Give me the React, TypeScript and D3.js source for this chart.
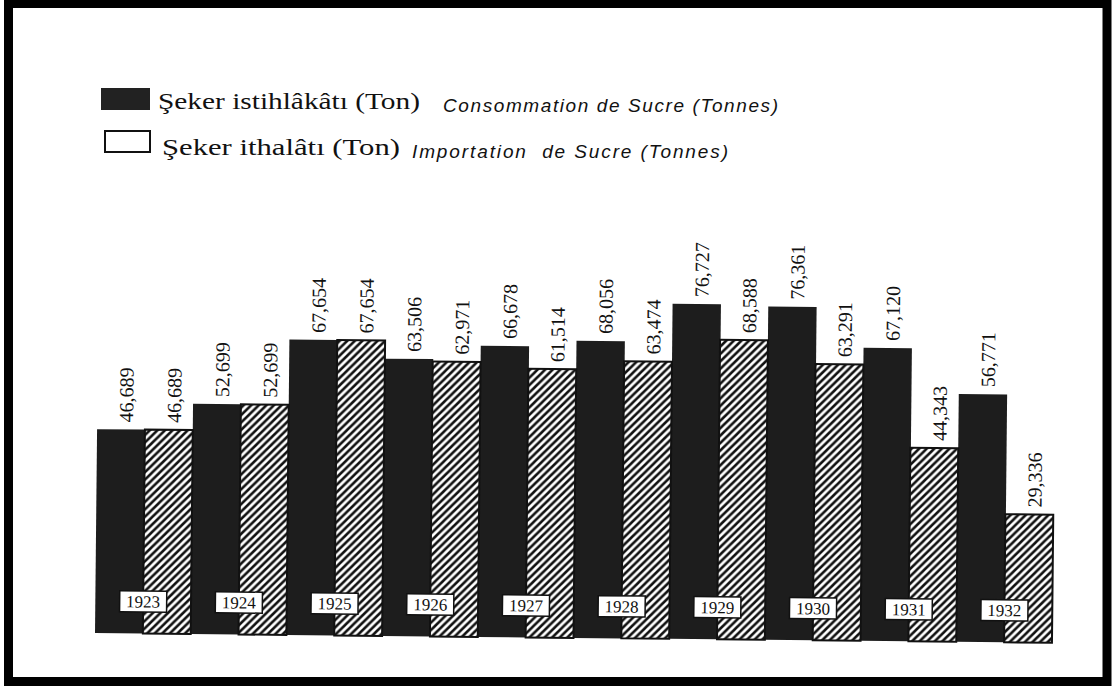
import React, { Component } from "react";
import * as d3 from "d3";

const years = ["1923", "1924", "1925", "1926", "1927", "1928", "1929", "1930", "1931", "1932"];
const consumption = [46689, 52699, 67654, 63506, 66678, 68056, 76727, 76361, 67120, 56771];
const imports = [46689, 52699, 67654, 62971, 61514, 63474, 68588, 63291, 44343, 29336];
const legendTr = ["Şeker istihlâkâtı (Ton)", "Şeker ithalâtı (Ton)"];
const legendFr = ["Consommation de Sucre (Tonnes)", "Importation  de Sucre (Tonnes)"];

class App extends Component {
  svgEl: SVGSVGElement | null = null;

  componentDidMount() {
    const width = 1113, height = 686;
    const svg = d3.select(this.svgEl).attr("width", width).attr("height", height);
    svg.selectAll("*").remove();

    svg.append("rect").attr("width", width).attr("height", height).attr("fill", "#fff");

    const defs = svg.append("defs");
    const pat = defs.append("pattern").attr("id", "hatch")
      .attr("patternUnits", "userSpaceOnUse").attr("width", 7.5).attr("height", 7.5);
    pat.append("rect").attr("width", 7.5).attr("height", 7.5).attr("fill", "#fff");
    pat.append("path").attr("d", "M-1,1 L1,-1 M0,7.5 L7.5,0 M6.5,8.5 L8.5,6.5")
      .attr("stroke", "#111").attr("stroke-width", 2.6);

    // page border
    svg.append("rect").attr("x", 8.5).attr("y", 3.5).attr("width", 1098.5).attr("height", 678)
      .attr("fill", "none").attr("stroke", "#000").attr("stroke-width", 9);

    // legend
    const lg = svg.append("g");
    lg.append("rect").attr("x", 101).attr("y", 88).attr("width", 49).attr("height", 22).attr("fill", "#222");
    lg.append("rect").attr("x", 105).attr("y", 131).attr("width", 45).attr("height", 21)
      .attr("fill", "#fff").attr("stroke", "#111").attr("stroke-width", 2);
    const trPos = [{ x: 158, y: 109, len: 262 }, { x: 162, y: 155, len: 238 }];
    const frPos = [{ x: 443, y: 112, len: 335 }, { x: 412, y: 158, len: 316 }];
    legendTr.forEach((t, i) => {
      lg.append("text").attr("x", trPos[i].x).attr("y", trPos[i].y)
        .attr("textLength", trPos[i].len).attr("lengthAdjust", "spacingAndGlyphs")
        .style("font-family", "'Liberation Serif', serif").style("font-size", "23px")
        .style("fill", "#111").text(t);
    });
    legendFr.forEach((t, i) => {
      lg.append("text").attr("x", frPos[i].x).attr("y", frPos[i].y)
        .attr("textLength", frPos[i].len).attr("lengthAdjust", "spacing")
        .style("font-family", "'Liberation Sans', sans-serif").style("font-style", "italic")
        .style("font-size", "19px").style("white-space", "pre")
        .style("fill", "#111").text(t);
    });

    // bars (scan is slightly tilted)
    const base = 633;
    const g = svg.append("g").attr("transform", `rotate(0.585, 95, ${base})`);

    const xScale = d3.scaleBand().domain(years).range([95, 1052]).padding(0);
    const sub = d3.scaleBand().domain(["c", "i"]).range([0, xScale.bandwidth()]).padding(0);
    const yScale = d3.scaleLinear().domain([0, 80000]).range([base, base - 80000 / 229]);
    const fmt = d3.format(",");

    const rows = years.map((y, i) => ({ year: y, c: consumption[i], im: imports[i] }));

    g.selectAll(".bar-c").data(rows).join("rect").attr("class", "bar-c")
      .attr("x", d => xScale(d.year)! + sub("c")!)
      .attr("y", d => yScale(d.c))
      .attr("width", sub.bandwidth() + 0.5)
      .attr("height", d => yScale(0) - yScale(d.c))
      .attr("fill", "#1d1d1d");

    g.selectAll(".bar-i").data(rows).join("rect").attr("class", "bar-i")
      .attr("x", d => xScale(d.year)! + sub("i")!)
      .attr("y", d => yScale(d.im))
      .attr("width", sub.bandwidth())
      .attr("height", d => yScale(0) - yScale(d.im))
      .attr("fill", "url(#hatch)").attr("stroke", "#111").attr("stroke-width", 2);

    const labelStyle = (sel: any) => sel
      .attr("text-anchor", "start")
      .style("font-family", "'Liberation Serif', serif").style("font-size", "20px").style("fill", "#111");

    g.selectAll(".lab-c").data(rows).join("text").attr("class", "lab-c")
      .attr("transform", d => `translate(${xScale(d.year)! + sub("c")! + sub.bandwidth() / 2 + 12},${yScale(d.c) - 7}) rotate(-90)`)
      .call(labelStyle).text(d => fmt(d.c));

    g.selectAll(".lab-i").data(rows).join("text").attr("class", "lab-i")
      .attr("transform", d => `translate(${xScale(d.year)! + sub("i")! + sub.bandwidth() / 2 + 12},${yScale(d.im) - 7}) rotate(-90)`)
      .call(labelStyle).text(d => fmt(d.im));

    // year boxes on the boundary between the two bars
    const yb = g.selectAll(".yearbox").data(rows).join("g").attr("class", "yearbox")
      .attr("transform", d => `translate(${xScale(d.year)! + sub.bandwidth()},${base - 32})`);
    yb.append("rect").attr("x", -23.5).attr("y", -10.5).attr("width", 47).attr("height", 21)
      .attr("fill", "#fff").attr("stroke", "#111").attr("stroke-width", 1.5);
    yb.append("text").attr("text-anchor", "middle").attr("y", 6)
      .style("font-family", "'Liberation Serif', serif").style("font-size", "17px").style("fill", "#111")
      .text(d => d.year);
  }

  render() {
    return (
      <svg ref={el => { this.svgEl = el; }} style={{ position: "absolute", left: 0, top: 0, display: "block" }} />
    );
  }
}

export default App;
